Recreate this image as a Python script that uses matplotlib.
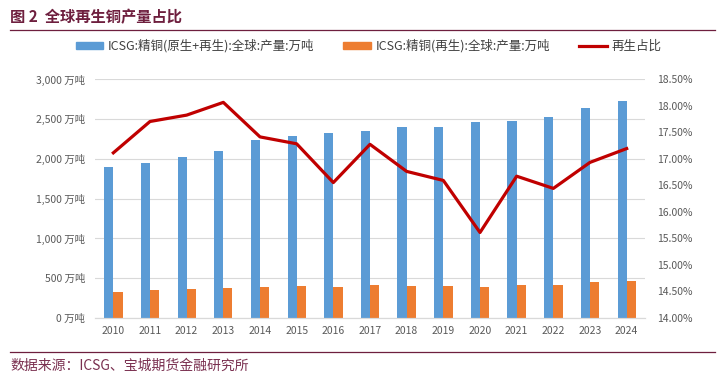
import matplotlib
matplotlib.use("Agg")
import matplotlib.pyplot as plt
from matplotlib.lines import Line2D
from matplotlib.patches import Patch
from matplotlib.ticker import FuncFormatter
import numpy as np

plt.rcParams['font.family'] = ['Noto Sans CJK SC', 'DejaVu Sans']

# 数据
years = ['2010', '2011', '2012', '2013', '2014', '2015', '2016', '2017',
         '2018', '2019', '2020', '2021', '2022', '2023', '2024']
total = [1900, 1950, 2017, 2092, 2238, 2279, 2325, 2346,
         2400, 2400, 2454, 2479, 2525, 2642, 2729]
recycled = [325, 346, 358, 379, 392, 400, 392, 412,
            400, 400, 388, 412, 412, 458, 467]
share = [17.11, 17.70, 17.82, 18.06, 17.41, 17.28, 16.55, 17.27,
         16.76, 16.59, 15.61, 16.67, 16.44, 16.93, 17.19]

lbl_total = 'ICSG:精铜(原生+再生):全球:产量:万吨'
lbl_rec = 'ICSG:精铜(再生):全球:产量:万吨'
lbl_share = '再生占比'

c_blue = '#5B9BD5'
c_orange = '#ED7D31'
c_red = '#C00000'
c_text = '#595959'
c_grid = '#D9D9D9'
c_maroon = '#6E1F3E'

fig = plt.figure(figsize=(7.27, 3.88), dpi=100)
ax = fig.add_axes([95 / 727, 1 - 318 / 388, 550 / 727, 239 / 388])
ax2 = ax.twinx()

x = np.arange(len(years))
w = 0.25
ax.bar(x - w / 2, total, w, color=c_blue, zorder=2)
ax.bar(x + w / 2, recycled, w, color=c_orange, zorder=2)
ax2.plot(x, share, color=c_red, lw=2.3, zorder=3)

ax.set_xlim(-0.5, len(years) - 0.5)
ax.set_ylim(0, 3000)
ax.set_yticks(np.arange(0, 3001, 500))
ax.yaxis.set_major_formatter(FuncFormatter(lambda v, p: f'{int(v):,} 万吨'))
ax.set_xticks(x)
ax.set_xticklabels(years)
ax.grid(axis='y', color=c_grid, lw=0.8, zorder=0)
ax.set_axisbelow(True)

ax2.set_ylim(14, 18.5)
ax2.set_yticks(np.arange(14, 18.51, 0.5))
ax2.yaxis.set_major_formatter(FuncFormatter(lambda v, p: f'{v:.2f}%'))

for a in (ax, ax2):
    for s in ['top', 'left', 'right']:
        a.spines[s].set_visible(False)
    a.spines['bottom'].set_color(c_grid)
    a.tick_params(length=0, colors=c_text, labelsize=7.5)
ax.tick_params(axis='y', pad=7)
ax.tick_params(axis='x', pad=6)
ax2.tick_params(axis='y', pad=9)

handles = [Patch(color=c_blue), Patch(color=c_orange), Line2D([], [], color=c_red, lw=2.3)]
fig.legend(handles, [lbl_total, lbl_rec, lbl_share], ncol=3, loc='center',
           bbox_to_anchor=(0.507, 1 - 46 / 388), frameon=False, fontsize=9,
           handlelength=2.2, handleheight=0.5, handletextpad=0.4, columnspacing=2.3,
           labelcolor='#404040')

# 标题与来源
fig.text(10 / 727, 1 - 17 / 388, '图 2  全球再生铜产量占比', fontsize=11, fontweight='bold',
         color=c_maroon, va='center', ha='left')
fig.add_artist(Line2D([10 / 727, 715 / 727], [1 - 30 / 388, 1 - 30 / 388], color=c_maroon, lw=0.9))
fig.add_artist(Line2D([10 / 727, 715 / 727], [1 - 352 / 388, 1 - 352 / 388], color=c_maroon, lw=0.9))
fig.text(10 / 727, 1 - 366 / 388, '数据来源：ICSG、宝城期货金融研究所', fontsize=10,
         color='#7A3050', va='center', ha='left')

fig.savefig('out.png', dpi=100)
